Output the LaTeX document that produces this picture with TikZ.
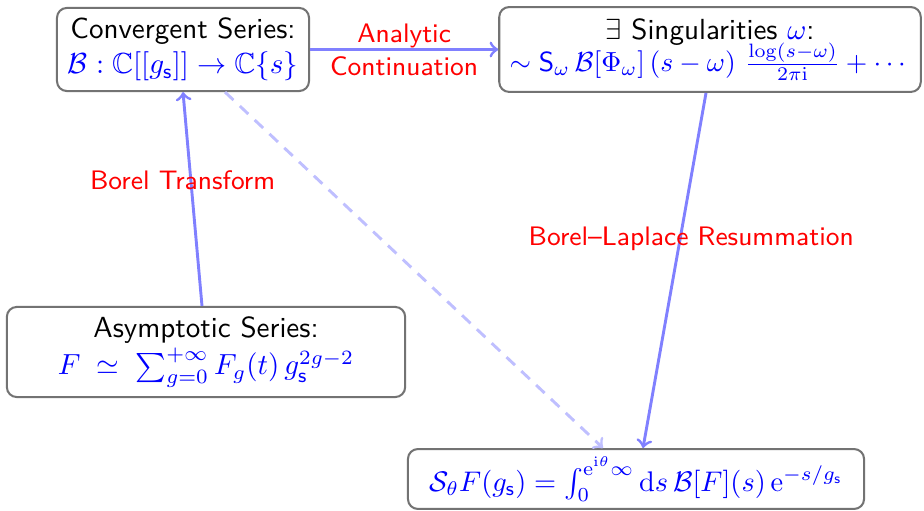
\documentclass[tikz,border=0pt]{standalone}
\usepackage{amsmath,amssymb}
\usetikzlibrary{calc}
\begin{document}
\begin{tikzpicture}[x=0.344pt,y=-0.344pt,
  box/.style={draw=black!55,line width=0.7pt,rounded corners=3.4pt,fill=white,align=center,font=\sffamily,inner sep=2pt},
  arr/.style={->,draw=blue!50,line width=1pt},
  darr/.style={->,draw=blue!25,line width=1pt,dashed,dash pattern=on 4pt off 3pt},
  lab/.style={text=red,font=\sffamily\fontsize{9.2}{11.3}\selectfont,align=center}]
\useasboundingbox (0,0) rectangle (924,511);
\node[box,minimum width=86.7pt,minimum height=28.6pt] (conv) at (183,49.5)
  {Convergent Series:\\ \color{blue}$\mathcal{B}:\mathbb{C}[[g_{\mathsf{s}}]]\to\mathbb{C}\{s\}$};
\node[box,minimum width=145pt,minimum height=29.2pt] (sing) at (710,49.5)
  {$\exists$ Singularities \textcolor{blue}{$\omega$}:\\[-1pt] \color{blue}\scalebox{0.95}{$\sim\mathsf{S}_\omega\,\mathcal{B}[\Phi_\omega]\,(s-\omega)\ \frac{\log(s-\omega)}{2\pi\mathrm{i}}+\cdots$}};
\node[box,minimum width=137pt,minimum height=31pt] (asym) at (206,352)
  {Asymptotic Series:\\[1pt] \color{blue}$F\;\simeq\;\sum_{g=0}^{+\infty}F_g(t)\,g_{\mathsf{s}}^{2g-2}$};
\node[box,minimum width=156.9pt,minimum height=20.6pt] (bot) at (636,479)
  {\color{blue}\scalebox{0.976}{$\mathcal{S}_\theta F(g_{\mathsf{s}})=\int_0^{\mathrm{e}^{\mathrm{i}\theta}\infty}\mathrm{d}s\,\mathcal{B}[F](s)\,\mathrm{e}^{-s/g_{\mathsf{s}}}$}};
\draw[arr] (conv.east) -- (sing.west) node[midway,lab] {Analytic\\Continuation};
\draw[arr] ($(asym.north)+(-4,0)$) -- (conv.south) node[pos=0.59,lab,xshift=-2.8pt] {Borel Transform};
\draw[arr] ($(sing.south)+(-4,0)$) -- ($(bot.north)+(7,0)$) node[pos=0.41,lab,xshift=3.8pt] {Borel--Laplace Resummation};
\draw[darr] ($(conv.south)+(42,0)$) -- ($(bot.north)+(-33,0)$);
\end{tikzpicture}
\end{document}
